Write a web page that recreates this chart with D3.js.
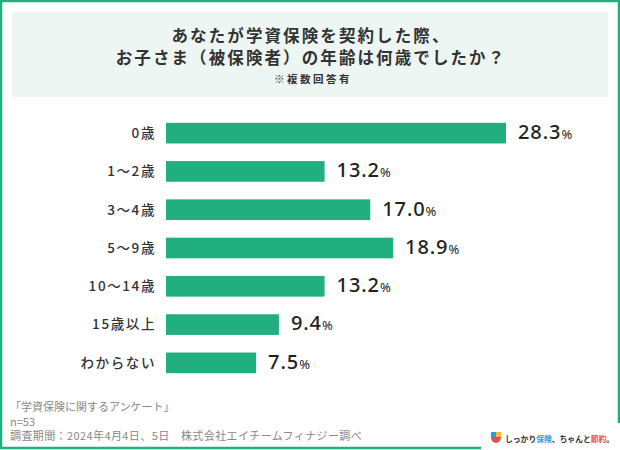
<!DOCTYPE html>
<html><head><meta charset="utf-8">
<script src="https://cdn.jsdelivr.net/npm/d3@7"></script>
<style>
html,body{margin:0;padding:0;background:#fff;}
svg{display:block;font-family:"Noto Sans CJK JP","Noto Sans",sans-serif;}
</style></head>
<body>
<svg id="chart" width="620" height="450"></svg>
<script>
const categories = ["0歳","1〜2歳","3〜4歳","5〜9歳","10〜14歳","15歳以上","わからない"];
const values = [28.3, 13.2, 17.0, 18.9, 13.2, 9.4, 7.5];
const titleLines = ["あなたが学資保険を契約した際、","お子さま（被保険者）の年齢は何歳でしたか？"];
const subtitle = "※複数回答有";
const footerLines = ["「学資保険に関するアンケート」","n=53","調査期間：2024年4月4日、5日　株式会社エイチームフィナジー調べ"];

const green = "#22AF80";
const svg = d3.select("#chart");

// frame
svg.append("rect").attr("x",1).attr("y",1).attr("width",618).attr("height",447)
  .attr("fill","#fff").attr("stroke",green).attr("stroke-width",2.5);
// title box
svg.append("rect").attr("x",12).attr("y",12).attr("width",596).attr("height",85).attr("fill","#EEF6F3");
svg.selectAll("text.title").data(titleLines).join("text").attr("class","title")
  .attr("x",311).attr("y",(d,i)=>42+i*22).attr("text-anchor","middle")
  .attr("font-size",16.5).attr("font-weight",700).attr("letter-spacing",2.1)
  .attr("fill","#333").text(d=>d);
svg.append("text").attr("x",313).attr("y",83).attr("text-anchor","middle")
  .attr("font-size",10.5).attr("font-weight",700).attr("letter-spacing",2.5)
  .attr("fill","#333").text(subtitle);

// scales
const x = d3.scaleLinear().domain([0,28.3]).range([166,506]);
const y = d3.scaleBand().domain(categories).range([114,382]).paddingInner(0.46).paddingOuter(0.23);

svg.selectAll("rect.bar").data(values).join("rect").attr("class","bar")
  .attr("x",x(0)).attr("y",(d,i)=>y(categories[i]))
  .attr("width",d=>x(d)-x(0)).attr("height",y.bandwidth()).attr("fill",green);

svg.selectAll("text.cat").data(categories).join("text").attr("class","cat")
  .attr("x",156).attr("y",d=>y(d)+y.bandwidth()/2).attr("dy","0.36em")
  .attr("text-anchor","end").attr("font-size",13.5).attr("font-weight",500)
  .attr("fill","#333").attr("letter-spacing",1.6).text(d=>d);

const vl = svg.selectAll("text.val").data(values).join("text").attr("class","val")
  .attr("x",d=>x(d)+12).attr("y",(d,i)=>y(categories[i])+y.bandwidth()/2).attr("dy","0.37em")
  .attr("fill","#222").attr("font-family","'Noto Sans','DejaVu Sans',sans-serif");
vl.append("tspan").attr("font-size",20).attr("font-weight",500).attr("letter-spacing",0.9).text(d=>d.toFixed(1));
vl.append("tspan").attr("font-size",13).text("%");

// footer
svg.selectAll("text.foot").data(footerLines).join("text").attr("class","foot")
  .attr("x",10).attr("y",(d,i)=>411+i*14.5).attr("font-size",11)
  .attr("letter-spacing",(d,i)=>i===2?0.4:0).attr("fill","#888").text(d=>d);

// logo area
svg.append("rect").attr("x",481).attr("y",423).attr("width",139).attr("height",27).attr("fill","#fff");
const lg = svg.append("g").attr("transform","translate(491,432)");
lg.append("rect").attr("x",0).attr("y",0).attr("width",5).attr("height",6).attr("fill","#2E9BE0");
lg.append("rect").attr("x",5).attr("y",0).attr("width",5).attr("height",6).attr("fill","#F5B82E");
lg.append("path").attr("d","M0,5 L10,5 A5,6 0 0 1 0,5 Z").attr("fill","#E84B4B");
const lt = svg.append("text").attr("x",505).attr("y",441.5).attr("font-size",7.8).attr("font-weight",700).attr("fill","#333");
lt.append("tspan").text("しっかり");
lt.append("tspan").attr("fill","#2E9BE0").text("保険");
lt.append("tspan").text("、ちゃんと");
lt.append("tspan").attr("fill","#E84B4B").text("節約");
lt.append("tspan").text("。");
</script>
</body></html>
